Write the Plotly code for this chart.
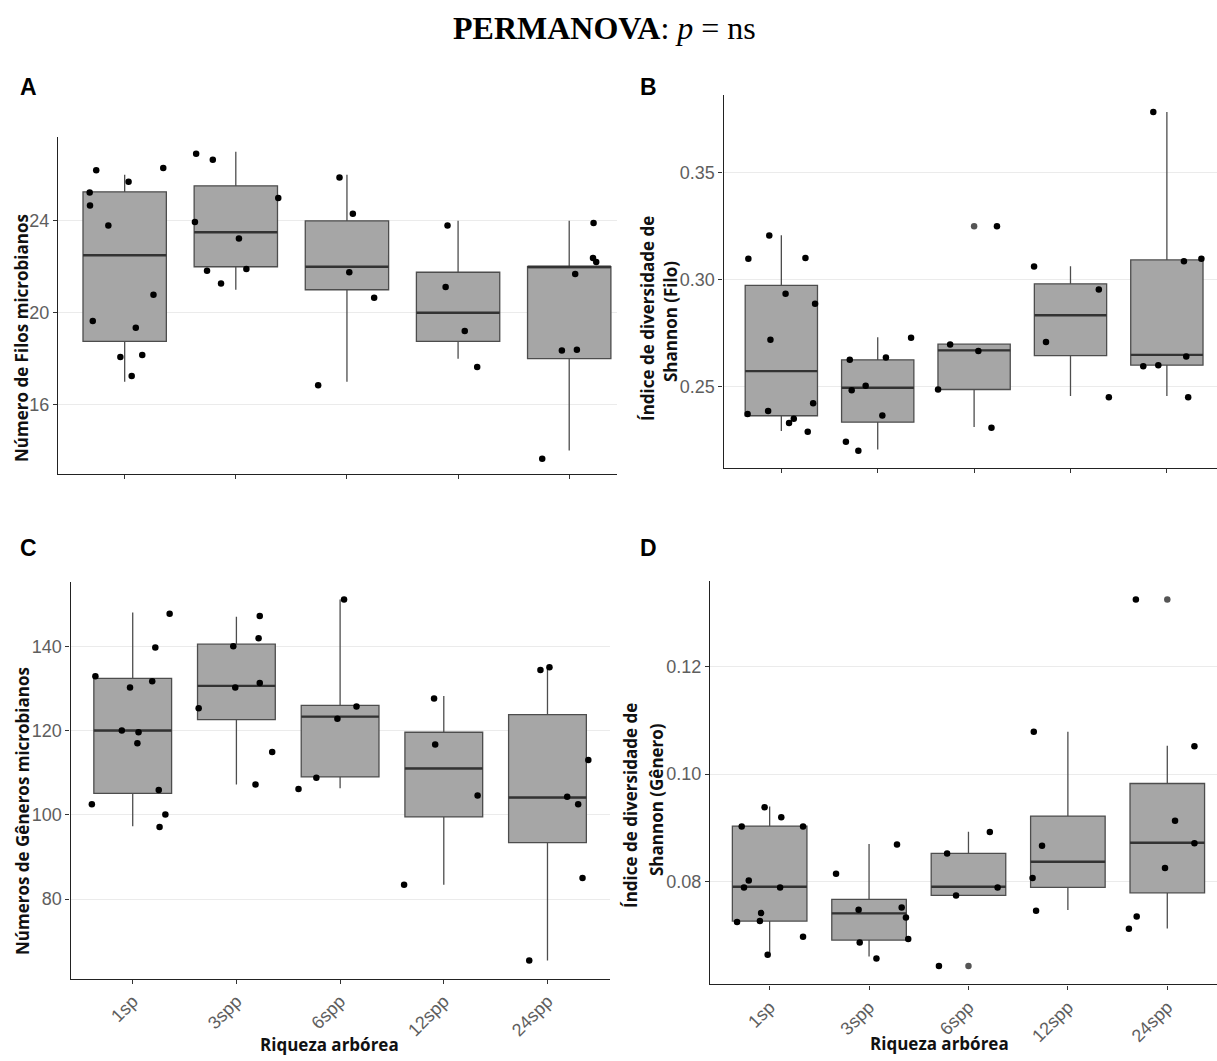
import plotly.graph_objects as go

W, H = 1217, 1061

categories = ["1sp", "3spp", "6spp", "12spp", "24spp"]

# ---------------- Panel A: Número de Filos microbianos ----------------
filos_q1 = [18.75, 22.0, 21.0, 18.75, 18.0]
filos_med = [22.5, 23.5, 22.0, 20.0, 22.0]
filos_q3 = [25.26, 25.52, 24.0, 21.76, 22.0]
filos_lo = [17.0, 21.0, 17.0, 18.0, 14.0]
filos_hi = [26.0, 27.0, 26.0, 24.0, 24.0]
filos_points = [
    [26.2, 25.23, 24.67, 23.79, 25.7, 26.3, 20.78, 19.64, 19.35, 18.07, 18.16, 17.25],
    [26.92, 26.66, 23.95, 24.99, 23.23, 21.83, 21.9, 21.27],
    [25.88, 24.31, 21.76, 20.65, 16.84],
    [23.79, 21.12, 19.21, 17.64],
    [23.9, 22.38, 22.21, 21.69, 18.36, 18.39, 13.65],
]
filos_jitter = [
    [-0.256, -0.315, -0.312, -0.147, 0.035, 0.347, 0.259, -0.287, 0.10, -0.039, 0.158, 0.063],
    [-0.357, -0.207, -0.368, 0.382, 0.028, -0.259, 0.095, -0.133],
    [-0.067, 0.053, 0.021, 0.245, -0.259],
    [-0.095, -0.112, 0.06, 0.172],
    [0.219, 0.214, 0.243, 0.054, -0.066, 0.069, -0.243],
]
filos_outliers = [[], [], [], [], []]
filos_ticks = [16, 20, 24]
filos_ticktext = ["16", "20", "24"]

# ---------------- Panel B: Shannon (Filo) ----------------
shf_q1 = [0.2362, 0.2332, 0.2485, 0.2644, 0.2599]
shf_med = [0.2571, 0.2493, 0.2668, 0.2833, 0.2647]
shf_q3 = [0.2973, 0.2624, 0.2697, 0.2980, 0.3092]
shf_lo = [0.2290, 0.2204, 0.2309, 0.2454, 0.2454]
shf_hi = [0.3207, 0.2730, 0.2697, 0.3062, 0.3785]
shf_points = [
    [0.3097, 0.3206, 0.3101, 0.2933, 0.2886, 0.2718, 0.2370, 0.2384, 0.2420, 0.2348, 0.2328, 0.2287],
    [0.2727, 0.2635, 0.2624, 0.2502, 0.2482, 0.2363, 0.2240, 0.2198],
    [0.2696, 0.2665, 0.2485, 0.2306, 0.3250],
    [0.3061, 0.2953, 0.2707, 0.2449],
    [0.3785, 0.3086, 0.3097, 0.2640, 0.2594, 0.2599, 0.2449],
]
shf_jitter = [
    [-0.342, -0.125, 0.25, 0.044, 0.35, -0.113, -0.35, -0.137, 0.33, 0.129, 0.08, 0.274],
    [0.346, 0.085, -0.29, -0.125, -0.27, 0.048, -0.33, -0.201],
    [-0.249, 0.044, -0.374, 0.18, 0.237],
    [-0.378, 0.294, -0.254, 0.398],
    [-0.141, 0.177, 0.358, 0.201, -0.245, -0.089, 0.221],
]
shf_outliers = [[], [], [0.325], [], []]
shf_ticks = [0.25, 0.30, 0.35]
shf_ticktext = ["0.25", "0.30", "0.35"]

# ---------------- Panel C: Números de Gêneros microbianos ----------------
gen_q1 = [105.1, 122.6, 109.0, 99.5, 93.4]
gen_med = [120.0, 130.6, 123.3, 111.0, 104.1]
gen_q3 = [132.4, 140.5, 126.0, 119.6, 123.8]
gen_lo = [97.3, 107.2, 106.3, 83.4, 65.4]
gen_hi = [148.0, 147.0, 151.1, 128.2, 135.2]
gen_points = [
    [147.7, 132.9, 139.7, 131.7, 130.2, 120.0, 119.6, 117.0, 105.9, 102.5, 100.1, 97.1],
    [147.2, 141.9, 140.0, 131.3, 130.2, 125.3, 114.9, 107.2],
    [151.1, 125.7, 122.8, 108.8, 106.1],
    [127.6, 116.7, 104.6, 83.4],
    [134.4, 135.0, 113.0, 104.3, 102.5, 85.0, 65.4],
]
gen_jitter = [
    [0.356, -0.36, 0.218, 0.188, -0.026, -0.105, 0.056, 0.045, 0.251, -0.394, 0.315, 0.259],
    [0.225, 0.214, -0.03, 0.225, -0.011, -0.364, 0.345, 0.184],
    [0.038, 0.158, -0.026, -0.229, -0.401],
    [-0.094, -0.083, 0.326, -0.383],
    [-0.068, 0.019, 0.394, 0.19, 0.296, 0.338, -0.176],
]
gen_outliers = [[], [], [], [], []]
gen_ticks = [80, 100, 120, 140]
gen_ticktext = ["80", "100", "120", "140"]

# ---------------- Panel D: Shannon (Gênero) ----------------
shg_q1 = [0.07265, 0.06912, 0.07743, 0.07891, 0.07792]
shg_med = [0.07904, 0.07408, 0.07904, 0.08369, 0.08722]
shg_q3 = [0.09033, 0.07668, 0.08524, 0.09219, 0.09826]
shg_lo = [0.06639, 0.06608, 0.07743, 0.07470, 0.07129]
shg_hi = [0.09400, 0.08700, 0.08927, 0.10790, 0.10527]
shg_points = [
    [0.09386, 0.09200, 0.09026, 0.09026, 0.08022, 0.07891, 0.07891, 0.07414, 0.07247, 0.07265, 0.06974, 0.06639],
    [0.08691, 0.08146, 0.07476, 0.07519, 0.07333, 0.06930, 0.06868, 0.06571],
    [0.08921, 0.08524, 0.07891, 0.07743, 0.06428],
    [0.10788, 0.08667, 0.08065, 0.07457],
    [0.13250, 0.10521, 0.09132, 0.08716, 0.08251, 0.07352, 0.07122],
]
shg_jitter = [
    [-0.051, 0.117, -0.281, 0.336, -0.21, -0.258, 0.105, -0.086, -0.328, -0.098, 0.336, -0.02],
    [0.281, -0.332, -0.105, 0.328, 0.371, 0.394, -0.094, 0.074],
    [0.215, -0.215, 0.293, -0.125, -0.297],
    [-0.343, -0.26, -0.355, -0.32],
    [-0.316, 0.273, 0.078, 0.273, -0.023, -0.308, -0.386],
]
shg_outliers = [[], [], [0.06428], [], [0.1325]]
shg_ticks = [0.08, 0.10, 0.12]
shg_ticktext = ["0.08", "0.10", "0.12"]

# ---------------- Figure ----------------
BOX_W = 0.75
FILL = "#a6a6a6"
BOX_LINE = "#4d4d4d"
TICK_FONT = dict(family="Liberation Sans, Arial, sans-serif", size=18, color="#5e5e5e")
TITLE_FONT = dict(family="Open Sans, sans-serif", size=17, color="#111111")

fig = go.Figure()


def px_x(v):
    return v / W


def px_y(v):
    return 1 - v / H


panels = [
    ("", filos_q1, filos_med, filos_q3, filos_lo, filos_hi, filos_points, filos_jitter,
     filos_outliers, filos_ticks, filos_ticktext, (58, 617), (136.5, 474), 5.43, False),
    ("2", shf_q1, shf_med, shf_q3, shf_lo, shf_hi, shf_points, shf_jitter,
     shf_outliers, shf_ticks, shf_ticktext, (723.5, 1217), (95, 467.7), 5.52, False),
    ("3", gen_q1, gen_med, gen_q3, gen_lo, gen_hi, gen_points, gen_jitter,
     gen_outliers, gen_ticks, gen_ticktext, (70.5, 609.7), (581.5, 978.6), 5.6, True),
    ("4", shg_q1, shg_med, shg_q3, shg_lo, shg_hi, shg_points, shg_jitter,
     shg_outliers, shg_ticks, shg_ticktext, (710, 1217), (581.2, 984.4), 5.5, True),
]

positions = list(range(1, len(categories) + 1))

for (suf, q1, med, q3, lo, hi, pts, jit, outl, tv, tt, dx, dy, xmax, showlab) in panels:
    xa, ya = "x" + suf, "y" + suf
    fig.add_trace(go.Box(
        x=positions, q1=q1, median=med, q3=q3, lowerfence=lo, upperfence=hi,
        width=BOX_W, whiskerwidth=0, fillcolor=FILL,
        line=dict(color=BOX_LINE, width=1.3), boxpoints=False,
        xaxis=xa, yaxis=ya, showlegend=False, hoverinfo="skip"))
    # thicker median lines
    mx, my = [], []
    for p, m in zip(positions, med):
        mx += [p - BOX_W / 2, p + BOX_W / 2, None]
        my += [m, m, None]
    fig.add_trace(go.Scatter(x=mx, y=my, mode="lines",
                             line=dict(color="#333333", width=2.4),
                             xaxis=xa, yaxis=ya, showlegend=False, hoverinfo="skip"))
    # outliers (at category centre)
    ox, oy = [], []
    for p, vals in zip(positions, outl):
        for v in vals:
            ox.append(p)
            oy.append(v)
    if ox:
        fig.add_trace(go.Scatter(x=ox, y=oy, mode="markers",
                                 marker=dict(color="#555555", size=6.5),
                                 xaxis=xa, yaxis=ya, showlegend=False, hoverinfo="skip"))
    # jittered points
    jx, jy = [], []
    for p, vals, js in zip(positions, pts, jit):
        for v, j in zip(vals, js):
            jx.append(p + j)
            jy.append(v)
    fig.add_trace(go.Scatter(x=jx, y=jy, mode="markers",
                             marker=dict(color="#000000", size=6.5),
                             xaxis=xa, yaxis=ya, showlegend=False, hoverinfo="skip"))

    allv = [v for g in pts for v in g] + lo + hi + [v for g in outl for v in g]
    vmin, vmax = min(allv), max(allv)
    pad = 0.05 * (vmax - vmin)

    xkey = "xaxis" + suf
    ykey = "yaxis" + suf
    fig.layout[xkey] = dict(
        domain=[px_x(dx[0]), min(1.0, px_x(dx[1]))], anchor=ya,
        range=[0.4, xmax], tickmode="array", tickvals=positions, ticktext=categories,
        showticklabels=showlab, tickangle=-45, tickfont=TICK_FONT,
        ticks="outside", ticklen=4, tickcolor="#333333", tickwidth=1,
        showline=True, linecolor="#222222", linewidth=1.4, showgrid=False,
        zeroline=False, fixedrange=True)
    fig.layout[ykey] = dict(
        domain=[px_y(dy[1]), px_y(dy[0])], anchor=xa,
        range=[vmin - pad, vmax + pad], tickmode="array", tickvals=tv, ticktext=tt,
        tickfont=TICK_FONT, ticks="outside", ticklen=4, tickcolor="#333333", tickwidth=1,
        showline=True, linecolor="#222222", linewidth=1.4,
        showgrid=True, gridcolor="#ebebeb", gridwidth=1, zeroline=False, fixedrange=True)

ann = []


def add_text(text, x, y, font, angle=0):
    ann.append(dict(text=text, x=px_x(x), y=px_y(y), xref="paper", yref="paper",
                    xanchor="center", yanchor="middle", showarrow=False,
                    textangle=angle, font=font))


# main title
add_text("<b>PERMANOVA</b>: <i>p</i> = ns", 604, 28,
         dict(family="Liberation Serif, Times New Roman, serif", size=32, color="#000000"))

# panel letters
LETTER_FONT = dict(family="Liberation Sans, Arial, sans-serif", size=23, color="#000000")
for letter, lx, ly in [("A", 28, 87), ("B", 648, 87), ("C", 28, 548), ("D", 648, 548)]:
    add_text("<b>" + letter + "</b>", lx, ly, LETTER_FONT)

# axis titles
add_text("<b>Número de Filos microbianos</b>", 21, 338, TITLE_FONT, -90)
add_text("<b>Índice de diversidade de</b>", 647, 319, TITLE_FONT, -90)
add_text("<b>Shannon (Filo)</b>", 670, 322, TITLE_FONT, -90)
add_text("<b>Números de Gêneros microbianos</b>", 22, 811, TITLE_FONT, -90)
add_text("<b>Índice de diversidade de</b>", 630, 806, TITLE_FONT, -90)
add_text("<b>Shannon (Gênero)</b>", 656, 800, TITLE_FONT, -90)
add_text("<b>Riqueza arbórea</b>", 329, 1044, TITLE_FONT)
add_text("<b>Riqueza arbórea</b>", 939, 1043, TITLE_FONT)

fig.update_layout(
    width=W, height=H, margin=dict(l=0, r=0, t=0, b=0),
    paper_bgcolor="white", plot_bgcolor="white",
    annotations=ann, showlegend=False)

fig.write_html(
    "out.html",
    config={"displayModeBar": False},
    post_script="document.body.style.margin='0';document.body.style.padding='0';"
                "document.documentElement.style.overflow='hidden';")
